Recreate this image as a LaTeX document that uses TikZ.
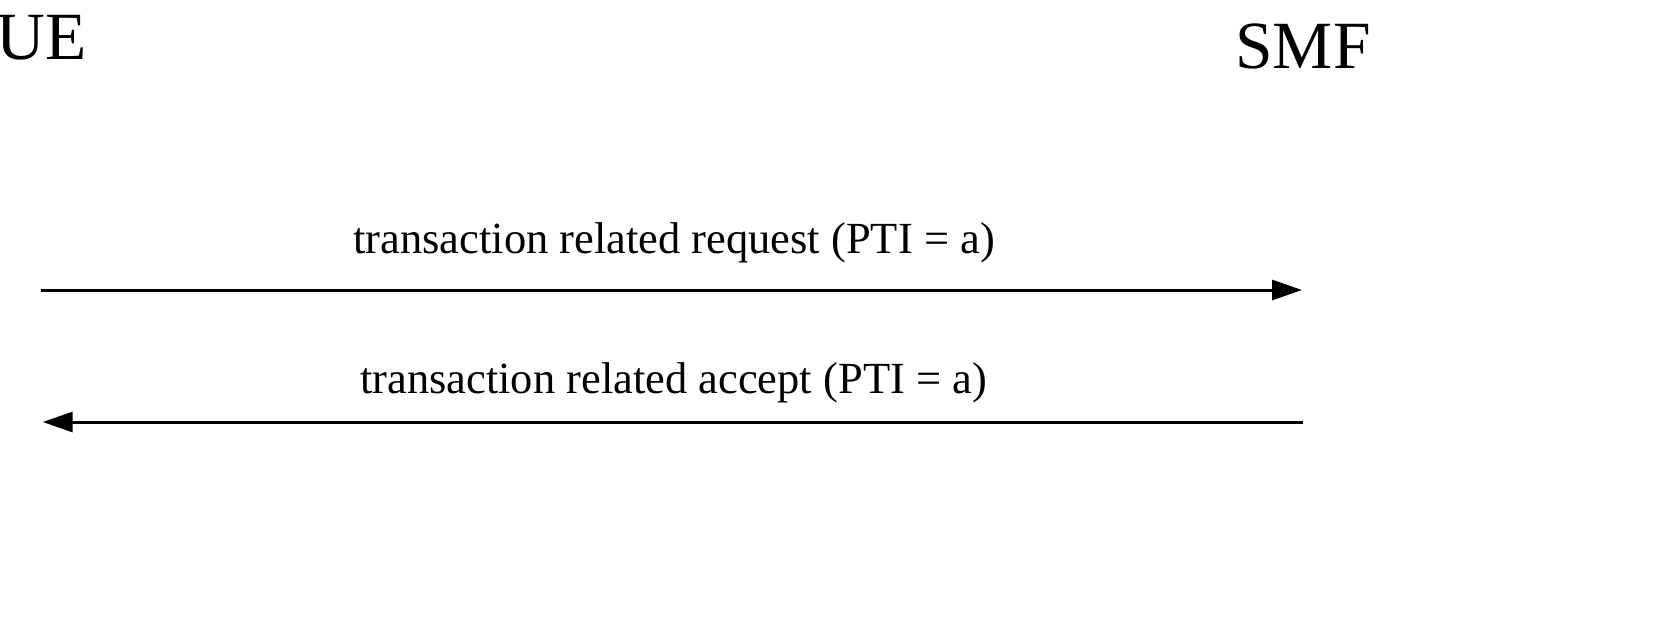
\documentclass[tikz,border=0pt]{standalone}
\usepackage{fontspec}
\setmainfont{Liberation Serif}
\usepackage{tikz}
\usetikzlibrary{arrows.meta}
\usetikzlibrary{positioning}
\tikzstyle{entity} = [inner sep=0pt, anchor=base, font=\fontsize{19.2}{21}\selectfont]
\tikzstyle{msg} = [inner sep=0pt, anchor=base, font=\fontsize{12.65}{14}\selectfont]
\tikzstyle{arrow} = [line width=0.85pt, -{Triangle[length=3mm,width=2mm]}]

\begin{document}
\begin{tikzpicture}
  [
    x=0.01cm, y=-0.01cm
    ]

      \useasboundingbox (0,0) rectangle (1673,639);

        \node[entity] (ue) at (41.5,59) {UE} ; %
        \node[entity] (smf) at (1303,68) {SMF} ; %

        % lifeline points
        \coordinate (ue1) at (40.5,290);
        \coordinate (smf1) at (1302,290);
        \coordinate (smf2) at (1303,422);
        \coordinate (ue2) at (42.7,422);

        \node[msg] (req) at (674,253) {transaction related request (PTI = a)}; %
        \node[msg] (acc) at (673.5,393) {transaction related accept (PTI = a)}; %

        \draw[arrow] (ue1) -- (smf1);
        \draw[arrow] (smf2) -- (ue2);
\end{tikzpicture}
\end{document}
